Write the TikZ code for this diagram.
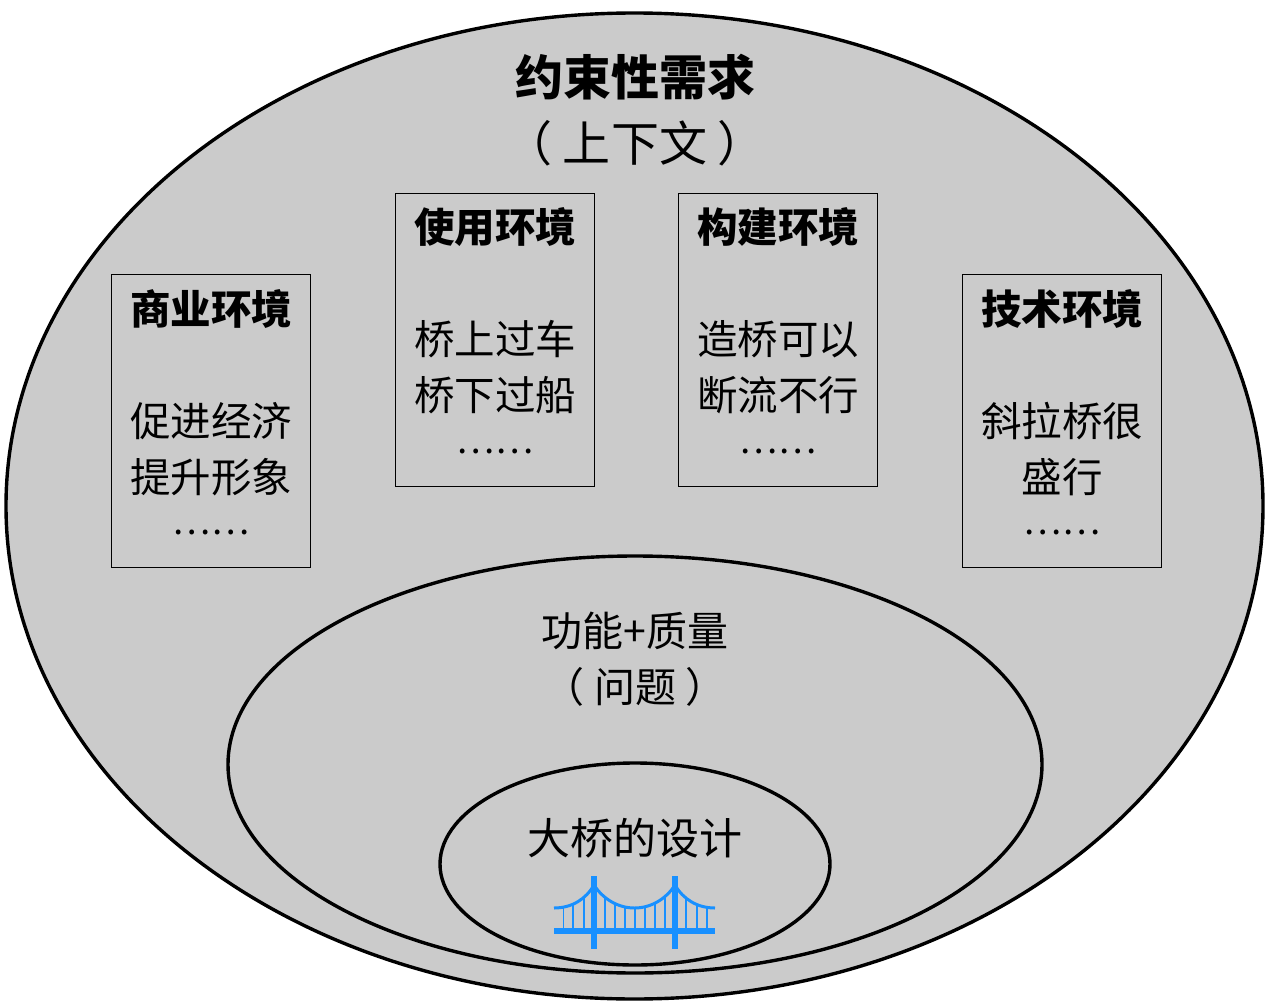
\documentclass[tikz,border=0pt]{standalone}
\usepackage{fontspec}
\setmainfont{Noto Sans CJK SC}
\usetikzlibrary{shapes.geometric}
\definecolor{panel}{HTML}{CBCBCB}
\definecolor{bridge}{HTML}{1890FF}
\newcommand{\dotsrow}{\raisebox{13.5pt}{\fontsize{36}{36}\selectfont ……}}
\tikzset{
  ring/.style={draw=black,line width=3.4pt,fill=panel,ellipse,inner sep=0pt},
  envbox/.style={draw=black,line width=1pt,fill=panel,minimum width=199pt,minimum height=293pt,inner sep=0pt},
  envtext/.style={align=center,inner sep=0pt,font=\fontsize{40.5}{56}\selectfont},
  label40/.style={align=center,inner sep=0pt,font=\fontsize{41}{56}\selectfont},
  titletext/.style={align=center,inner sep=0pt,font=\fontsize{48}{66}\selectfont},
  designtext/.style={inner sep=0pt,font=\fontsize{43}{56}\selectfont},
  tower/.style={line width=6pt,draw=bridge},
  deck/.style={line width=6pt,draw=bridge},
  cable/.style={line width=3pt,draw=bridge},
  hanger/.style={line width=1.8pt,draw=bridge}
}
\begin{document}
\begin{tikzpicture}[x=1pt,y=-1pt]
\useasboundingbox (0,0) rectangle (1274,1006);
\node[ring,minimum width=1257pt,minimum height=986pt] (outer) at (634.5,506) {};
\node[ring,minimum width=814pt,minimum height=417pt] (mid) at (635,764.5) {};
\node[ring,minimum width=390pt,minimum height=202pt] (inner) at (635,864) {};
\node[titletext] (title) at (635,110) {\textbf{约束性需求}\\（ 上下文 ）};
\node[envbox] (biz) at (211,421) {};
\node[envbox] (use) at (495,340) {};
\node[envbox] (build) at (778,340) {};
\node[envbox] (tech) at (1062,421) {};
\node[envtext,yshift=2.5pt] (biztext) at (biz.center) {\textbf{商业环境}\\\mbox{}\\促进经济\\提升形象\\\dotsrow};
\node[envtext,yshift=2.5pt] (usetext) at (use.center) {\textbf{使用环境}\\\mbox{}\\桥上过车\\桥下过船\\\dotsrow};
\node[envtext,yshift=2.5pt] (buildtext) at (build.center) {\textbf{构建环境}\\\mbox{}\\造桥可以\\断流不行\\\dotsrow};
\node[envtext,yshift=2.5pt] (techtext) at (tech.center) {\textbf{技术环境}\\\mbox{}\\斜拉桥很\\盛行\\\dotsrow};
\node[label40] (func) at (635,659) {功能+质量\\（ 问题 ）};
\node[designtext] (design) at (635,838) {大桥的设计};
% bridge icon
\foreach \hx/\ty in {563.5/908,573/905,584/898,605/898,615/903,625/907,635/908,645/907,655/903,665/898,686/898,697/905,707/908}{
  \draw[hanger] (\hx,\ty) -- (\hx,930);
}
\draw[cable] (554,908) .. controls (572,908) and (586,899) .. (594,885);
\draw[cable] (594,885) .. controls (603,899) and (618,908) .. (634.5,908) .. controls (651,908) and (666,899) .. (675,885);
\draw[cable] (675,885) .. controls (683,899) and (697,908) .. (715,908);
\draw[deck] (554,931) -- (715,931);
\draw[tower] (594,876) -- (594,949);
\draw[tower] (675,876) -- (675,949);
\end{tikzpicture}
\end{document}
